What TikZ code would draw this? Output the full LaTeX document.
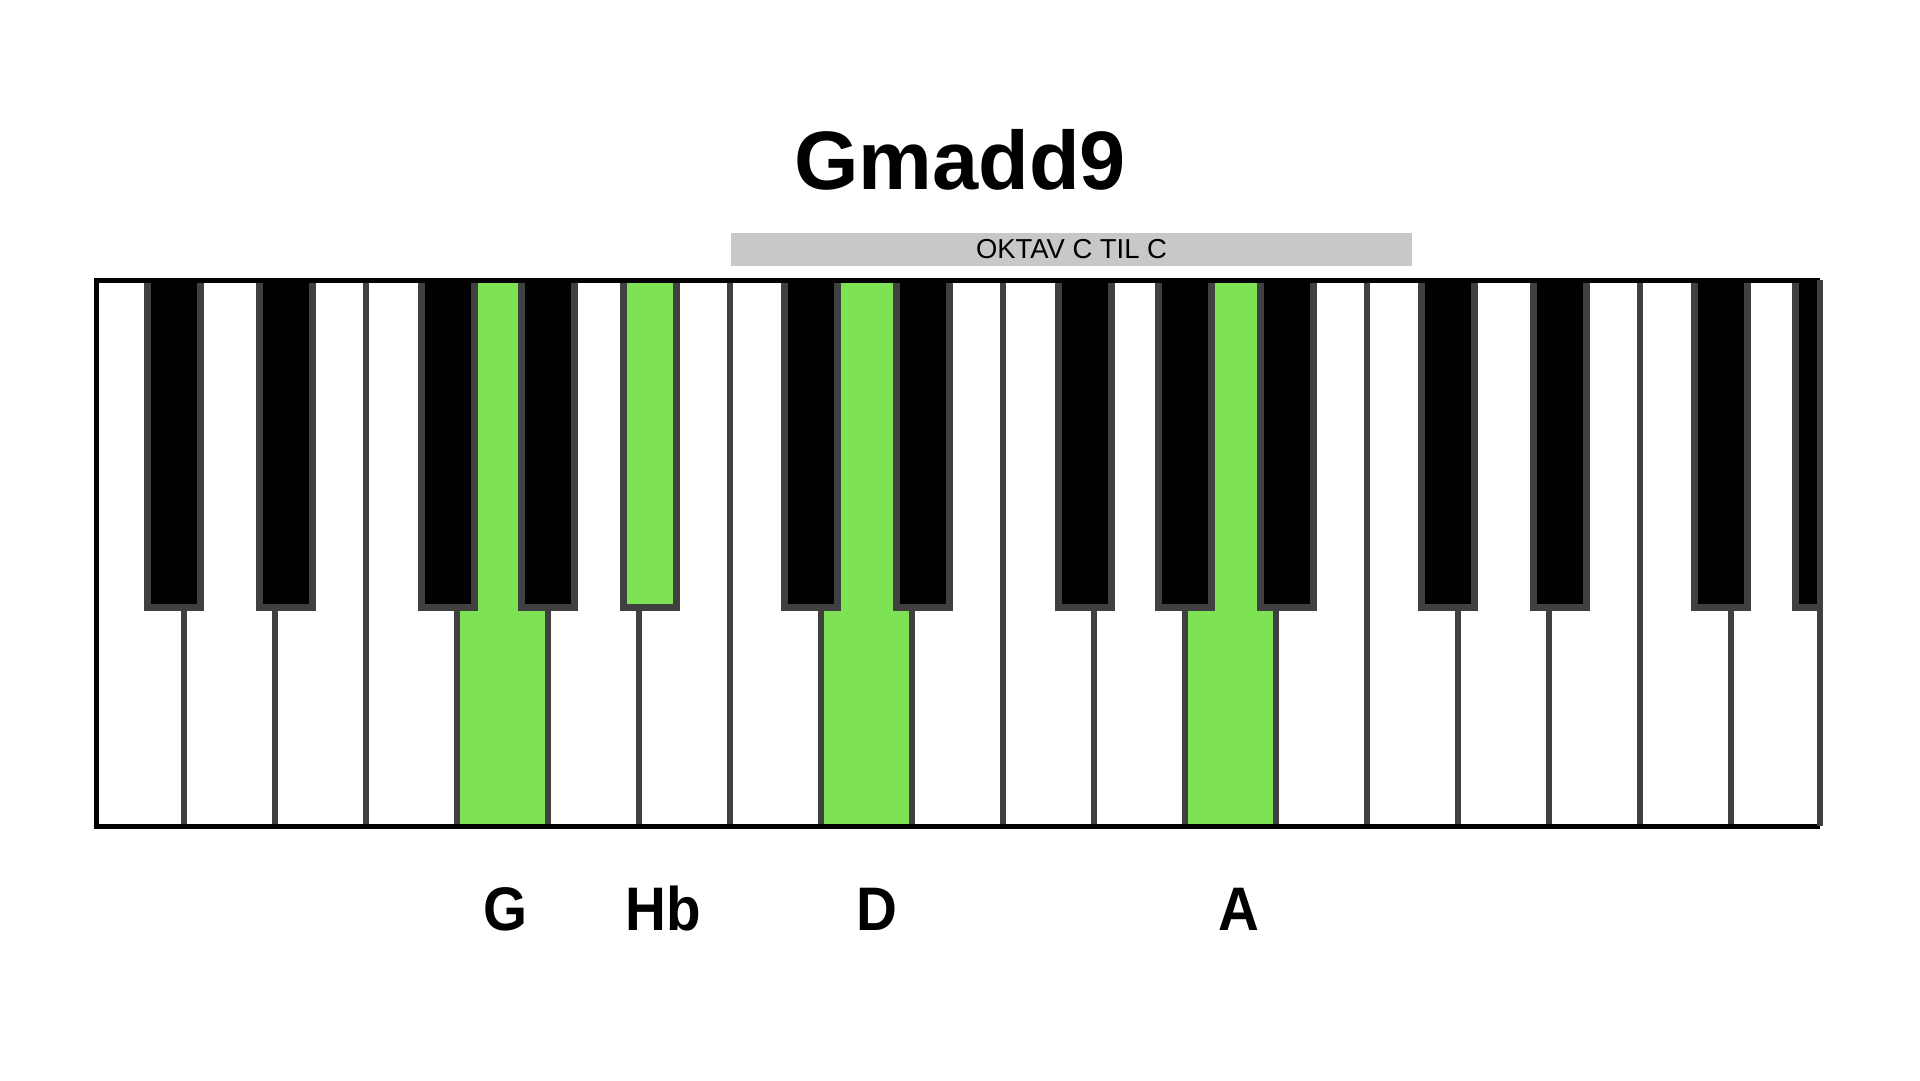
\documentclass[tikz,border=0pt]{standalone}
\usepackage{fontspec}
\setmainfont{Liberation Sans}
\newfontfamily\kltonefont[FakeStretch=0.92]{Liberation Sans}
\usetikzlibrary{positioning}
\definecolor{klgronn}{HTML}{7DE354}
\definecolor{klgraa}{HTML}{404040}
\definecolor{klfelt}{HTML}{C8C8C8}
\tikzset{
  klskille/.style={draw=klgraa, line width=0.6mm},
  klsvart/.style={draw=klgraa, line width=0.65mm},
  klramme/.style={draw=black, line width=0.5mm},
  kltittel/.style={font=\fontsize{23.6}{28}\selectfont\bfseries, anchor=base},
  kloktav/.style={fill=klfelt, minimum width=68.1mm, minimum height=3.3mm, inner sep=0pt,
                  font=\fontsize{7.8}{9}\selectfont},
  kltone/.style={font=\kltonefont\fontsize{17.5}{21}\selectfont\bfseries, anchor=base},
}

\begin{document}
\begin{tikzpicture}[x=0.1mm, y=-0.1mm]
        \useasboundingbox (0,0) rectangle (1920,1080);
        % ---------------- tittel ----------------
        \node[kltittel] (tittel) at (960,189) {Gmadd9};
        \node[kloktav] (oktav) at (1071.5,249.5) {OKTAV C TIL C};
        % ---------------- klaviatur ----------------
        \begin{scope}
        \clip (96,280) rectangle (1820,826);
        \fill[klgronn] (457,270) rectangle (548,830);
        \fill[klgronn] (821,270) rectangle (912,830);
        \fill[klgronn] (1185,270) rectangle (1276,830);
        \foreach \k in {0,...,17} {\draw[klskille] ({184+91*\k},270) -- ({184+91*\k},830);}
        \foreach \k/\d/\f in {0/-10/black,1/11/black,3/-9/black,4/0/black,5/11/klgronn,
                              7/-10/black,8/11/black,10/-9/black,11/0/black,12/11/black,
                              14/-10/black,15/11/black,17/-10/black,18/0/black}
          {\draw[klsvart, fill=\f] ({184+91*\k+\d-26.5},270) rectangle ({184+91*\k+\d+26.5},607.5);}
        \end{scope}
        \draw[klramme] (1820,280) -- (96,280) -- (96,826) -- (1820,826);
        \draw[klskille] (1820,280) -- (1820,826);
        % ---------------- toner ----------------
        \node[kltone] (tonG) at (506,930) {G};
        \node[kltone] (tonHb) at (663,930) {Hb};
        \node[kltone] (tonD) at (876.5,930) {D};
        \node[kltone] (tonA) at (1239,930) {A};
    \end{tikzpicture}
\end{document}
